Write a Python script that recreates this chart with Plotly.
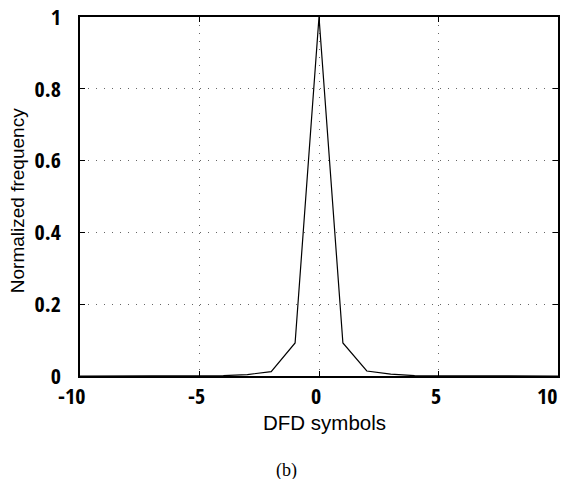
import plotly.graph_objects as go

# Histogram of DFD symbols, normalized so the peak bin equals 1
dfd_symbols = [-10, -9, -8, -7, -6, -5, -4, -3, -2, -1, 0, 1, 2, 3, 4, 5, 6, 7, 8, 9, 10]
norm_freq = [0.0, 0.0, 0.0, 0.0, 0.0, 0.0005, 0.001, 0.004, 0.012, 0.092, 1.0,
             0.092, 0.014, 0.005, 0.001, 0.0005, 0.0, 0.0, 0.0, 0.0, 0.0]

x_ticks = [-10, -5, 0, 5, 10]
x_tick_text = ["-10", "-5", "0", "5", "10"]
y_ticks = [0, 0.2, 0.4, 0.6, 0.8, 1]
y_tick_text = ["0", "0.2", "0.4", "0.6", "0.8", "1"]

tick_font = dict(family="Open Sans Condensed, Roboto Condensed, DejaVu Sans Condensed",
                 size=22, color="black", weight="bold")

fig = go.Figure()
fig.add_trace(go.Scatter(x=dfd_symbols, y=norm_freq, mode="lines",
                         line=dict(color="black", width=1.2), showlegend=False))

axis_common = dict(
    showline=True, linecolor="black", linewidth=1.5, mirror="ticks",
    ticks="inside", ticklen=5, tickcolor="black", tickwidth=1,
    showgrid=True, gridcolor="#666666", griddash="1px,7px", gridwidth=1,
    zeroline=False, tickfont=tick_font, automargin=False,
)

# x tick labels are placed as annotations so the last one can sit flush
# with the right border instead of running off the page
fig.update_xaxes(range=[-10, 10], tickvals=x_ticks, showticklabels=False, **axis_common)
fig.update_yaxes(range=[0, 1], tickvals=y_ticks, ticktext=y_tick_text,
                 ticklabelstandoff=13, **axis_common)

for i, (val, txt) in enumerate(zip(x_ticks, x_tick_text)):
    last = i == len(x_ticks) - 1
    fig.add_annotation(text=txt, x=val, xref="x", y=0, yref="paper",
                       xanchor="right" if last else "center", yanchor="middle",
                       xshift=1 if last else (-9 if i == 0 else -3), yshift=-19,
                       showarrow=False, font=tick_font)

fig.add_annotation(text="Normalized frequency", xref="paper", yref="paper",
                   x=0, y=0.487, xanchor="center", yanchor="middle", xshift=-63,
                   textangle=-90, showarrow=False,
                   font=dict(family="Liberation Sans, Arial, Helvetica", size=19, color="black"))
fig.add_annotation(text="DFD symbols", xref="paper", yref="paper",
                   x=0.5, y=0, xanchor="center", yanchor="middle", yshift=-46, xshift=5,
                   showarrow=False,
                   font=dict(family="Liberation Sans, Arial, Helvetica", size=20.5, color="black"))
fig.add_annotation(text="(b)", xref="paper", yref="paper",
                   x=0.431, y=0, xanchor="center", yanchor="middle", yshift=-94,
                   showarrow=False,
                   font=dict(family="Liberation Serif, Times New Roman, serif",
                             size=18, color="black"))

fig.update_layout(
    width=561, height=479,
    margin=dict(l=80, r=3, t=17, b=103),
    paper_bgcolor="white", plot_bgcolor="white",
)

fig.write_html("out.html")
